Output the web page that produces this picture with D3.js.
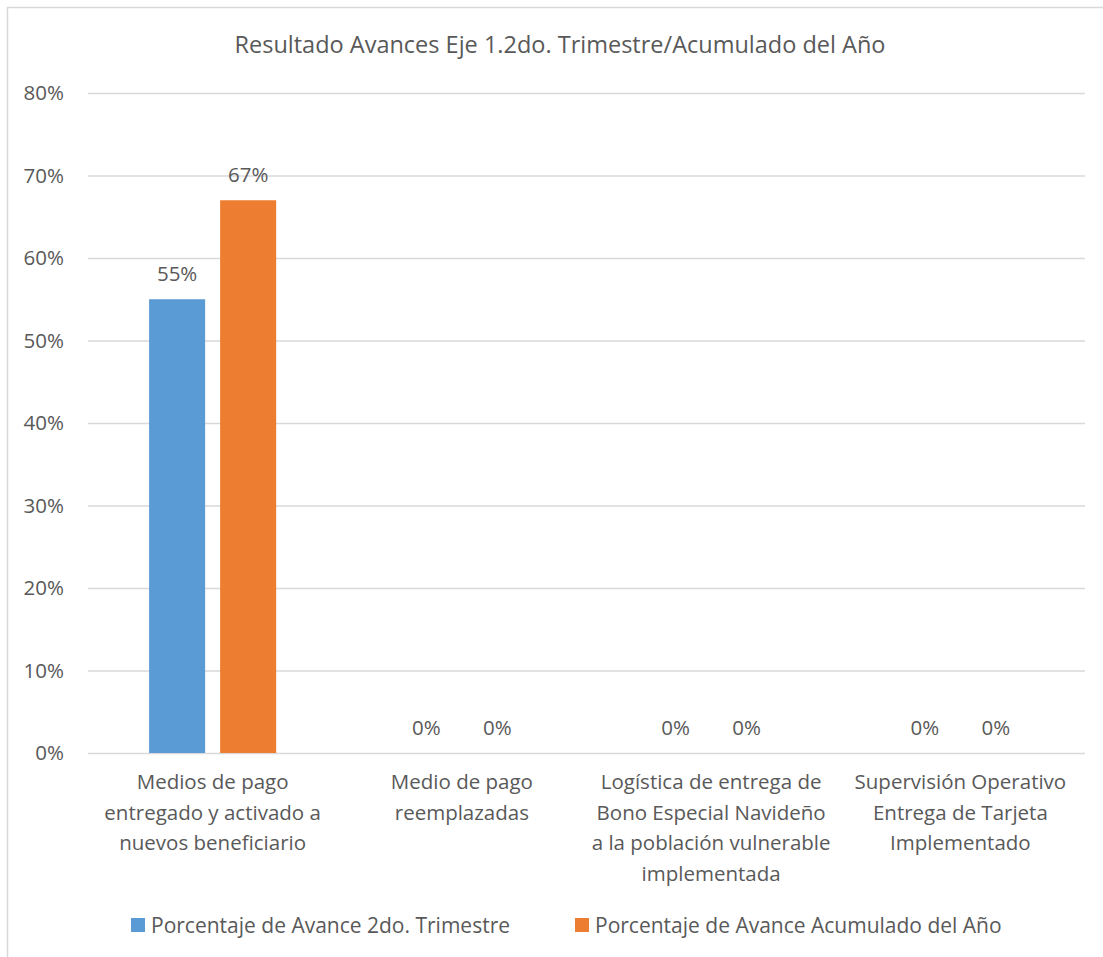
<!DOCTYPE html>
<html>
<head>
<meta charset="utf-8">
<script src="https://cdn.jsdelivr.net/npm/d3@7"></script>
<style>
  body { margin: 0; background: #fff; }
  text { font-family: "Open Sans", sans-serif; fill: #595959; }
</style>
</head>
<body>
<svg id="chart" width="1103" height="957"></svg>
<script>
const categories = [
  ["Medios de pago", "entregado y activado a", "nuevos beneficiario"],
  ["Medio de pago", "reemplazadas"],
  ["Logística de entrega de", "Bono Especial Navideño", "a la población vulnerable", "implementada"],
  ["Supervisión Operativo", "Entrega de Tarjeta", "Implementado"]
];
const seriesNames = ["Porcentaje de Avance 2do. Trimestre", "Porcentaje de Avance Acumulado del Año"];
const trimestre = [0.55, 0, 0, 0];
const acumulado = [0.67, 0, 0, 0];
const yTicks = [0, 0.1, 0.2, 0.3, 0.4, 0.5, 0.6, 0.7, 0.8];
const colors = ["#5B9BD5", "#ED7D31"];

const svg = d3.select("#chart");
const width = 1103, height = 957;
const margin = { top: 93, right: 18, bottom: 204, left: 88 };

// chart border
svg.append("rect")
  .attr("x", 7.5).attr("y", 7.5)
  .attr("width", 1110).attr("height", 970)
  .attr("fill", "none").attr("stroke", "#d9d9d9").attr("stroke-width", 1.5);

svg.append("text")
  .attr("x", 560).attr("y", 53)
  .attr("text-anchor", "middle")
  .style("font-size", "23.5px")
  .text("Resultado Avances Eje 1.2do. Trimestre/Acumulado del Año");

const x0 = d3.scaleBand()
  .domain(d3.range(categories.length))
  .range([margin.left, width - margin.right]);

const x1 = d3.scaleBand()
  .domain([0, 1])
  .range([0, x0.bandwidth()])
  .paddingInner(0.211)
  .paddingOuter(0.86);

const y = d3.scaleLinear()
  .domain([0, 0.8])
  .range([height - margin.bottom, margin.top]);

// gridlines + y labels
const yAxis = d3.axisLeft(y)
  .tickValues(yTicks)
  .tickFormat(d3.format(".0%"))
  .tickSize(-(width - margin.left - margin.right))
  .tickPadding(24);

svg.append("g")
  .attr("transform", `translate(${margin.left},0)`)
  .call(yAxis)
  .call(g => g.select(".domain").remove())
  .call(g => g.selectAll(".tick line").attr("stroke", "#d9d9d9").attr("stroke-width", 1.5))
  .call(g => g.selectAll(".tick text").style("font-size", "20.5px").attr("fill", "#595959")
    .style("font-family", "'Open Sans', sans-serif"));

const series = [trimestre, acumulado];

const groups = svg.append("g").selectAll("g")
  .data(categories.map((c, i) => i))
  .join("g")
  .attr("transform", (i) => `translate(${x0(i)},0)`);

groups.selectAll("rect")
  .data((i) => series.map((s, k) => ({ k, v: s[i] })))
  .join("rect")
  .attr("x", (d) => x1(d.k))
  .attr("width", x1.bandwidth())
  .attr("y", (d) => y(d.v))
  .attr("height", (d) => y(0) - y(d.v))
  .attr("fill", (d) => colors[d.k]);

groups.selectAll("text.lbl")
  .data((i) => series.map((s, k) => ({ k, v: s[i] })))
  .join("text")
  .attr("class", "lbl")
  .attr("x", (d) => x1(d.k) + x1.bandwidth() / 2)
  .attr("y", (d) => y(d.v) - 18)
  .attr("text-anchor", "middle")
  .style("font-size", "20.5px")
  .text((d) => d3.format(".0%")(d.v));

// category labels
groups.append("text")
  .attr("text-anchor", "middle")
  .style("font-size", "20.5px")
  .selectAll("tspan")
  .data((i) => categories[i])
  .join("tspan")
  .attr("x", x0.bandwidth() / 2)
  .attr("y", (d, j) => 789 + j * 30.7)
  .text((d) => d);

// legend
const legendX = [131, 575];
const legend = svg.append("g").selectAll("g")
  .data(seriesNames)
  .join("g")
  .attr("transform", (d, k) => `translate(${legendX[k]},918)`);
legend.append("rect").attr("width", 14).attr("height", 14).attr("fill", (d, k) => colors[k]);
legend.append("text").attr("x", 20).attr("y", 14.5).style("font-size", "21px").text((d) => d);
</script>
</body>
</html>
